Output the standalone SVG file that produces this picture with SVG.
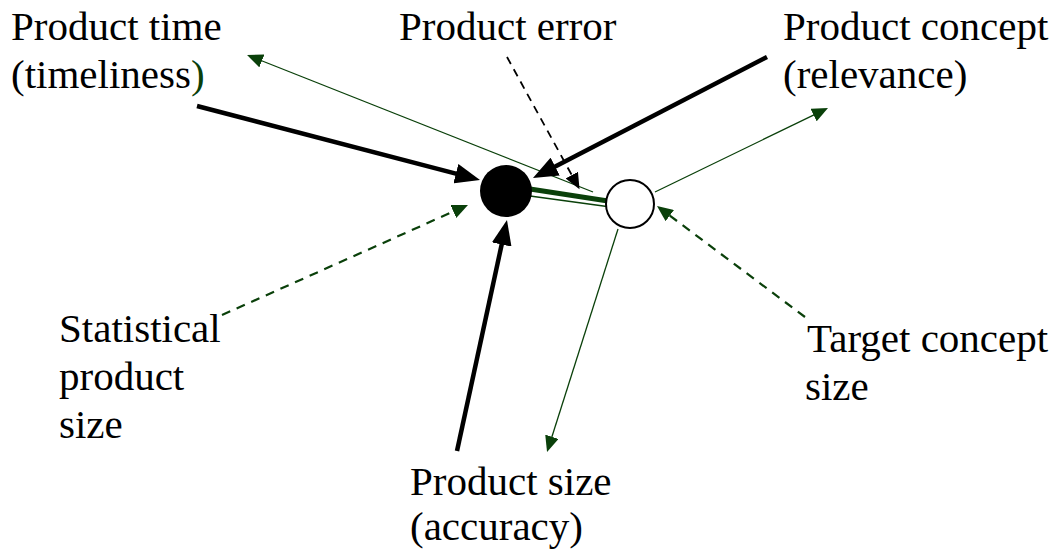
<svg xmlns="http://www.w3.org/2000/svg" width="1058" height="558" viewBox="0 0 1058 558">
<style>
text{font-family:"Liberation Serif","Times New Roman",serif;font-size:41px;fill:#000}
.thick{stroke:#000;stroke-width:4.5;fill:none}
.dashk{stroke:#000;stroke-width:1.8;stroke-dasharray:8,6;fill:none}
.thin{stroke:#0a400a;stroke-width:1.3;fill:none}
.dashg{stroke:#0a400a;stroke-width:2.2;stroke-dasharray:9,7;fill:none}
</style>
<defs>
<marker id="bigk" markerUnits="userSpaceOnUse" markerWidth="26" markerHeight="20" refX="1" refY="10" orient="auto"><path d="M0,0 L25,10 L0,20 Z" fill="#000"/></marker>
<marker id="smk" markerUnits="userSpaceOnUse" markerWidth="17" markerHeight="14" refX="1" refY="7" orient="auto"><path d="M0,0 L16,7 L0,14 Z" fill="#000"/></marker>
<marker id="smg" markerUnits="userSpaceOnUse" markerWidth="17" markerHeight="14" refX="1" refY="7" orient="auto"><path d="M0,0 L16,7 L0,14 Z" fill="#0a400a"/></marker>
</defs>
<g id="connectors">
<line class="thin" x1="593" y1="192" x2="261" y2="60.5" marker-end="url(#smg)"/>
<line class="thin" x1="655" y1="192" x2="814.5" y2="114.6" marker-end="url(#smg)"/>
<line class="thin" x1="618" y1="229" x2="551.6" y2="437.7" marker-end="url(#smg)"/>
<line class="dashg" x1="222" y1="315" x2="454.3" y2="211.1" marker-end="url(#smg)"/>
<line class="dashg" x1="805" y1="317" x2="669" y2="215" marker-end="url(#smg)"/>
<line class="thick" x1="197" y1="106" x2="456.8" y2="173.9" marker-end="url(#bigk)"/>
<line class="thick" x1="767" y1="57" x2="554.3" y2="167" marker-end="url(#bigk)"/>
<line class="thick" x1="457" y1="451" x2="501.9" y2="243.5" marker-end="url(#bigk)"/>
<line class="dashk" x1="507" y1="57" x2="572.3" y2="176" marker-end="url(#smk)"/>
<line stroke="#0a400a" stroke-width="5" x1="530" y1="189" x2="608" y2="201"/>
<line stroke="#0a400a" stroke-width="1.5" x1="530" y1="196" x2="607" y2="206.5"/>
</g>
<g id="node-product">
<circle cx="506" cy="191" r="26" fill="#000"/>
</g>
<g id="node-target">
<circle cx="630" cy="204" r="24" fill="#fff" stroke="#000" stroke-width="2"/>
</g>
<g id="label-time"><text x="11" y="40">Product time</text><text x="11" y="88">(timeliness<tspan fill="#0a400a">)</tspan></text></g>
<g id="label-error"><text x="399" y="40">Product error</text></g>
<g id="label-concept"><text x="783" y="40">Product concept</text><text x="783" y="88">(relevance)</text></g>
<g id="label-stat"><text x="59" y="342">Statistical</text><text x="59" y="390">product</text><text x="59" y="438">size</text></g>
<g id="label-target"><text x="807" y="352">Target concept</text><text x="805" y="400">size</text></g>
<g id="label-size"><text x="410" y="495">Product size</text><text x="410" y="540">(accuracy)</text></g>
</svg>
